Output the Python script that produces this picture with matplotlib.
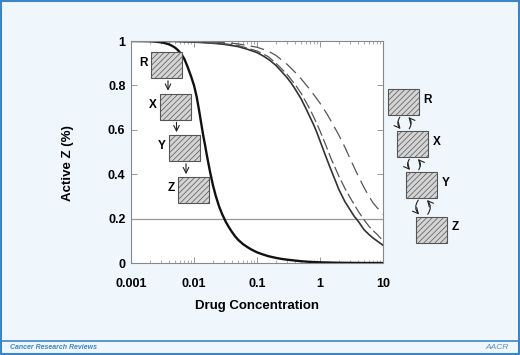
import matplotlib.pyplot as plt
import matplotlib.patches as mpatches
import numpy as np

plt.rcParams['font.family'] = ['Liberation Sans', 'DejaVu Sans']
plt.rcParams['hatch.color'] = '#777777'
plt.rcParams['hatch.linewidth'] = 0.5

# Data
x_steep = [0.001, 0.002, 0.0025, 0.003, 0.0035, 0.004, 0.0045, 0.005, 0.0055, 0.006, 0.0065,
           0.007, 0.0075, 0.008, 0.009, 0.010, 0.011, 0.012, 0.013, 0.014, 0.015, 0.016,
           0.018, 0.020, 0.022, 0.025, 0.028, 0.032, 0.036, 0.040, 0.045, 0.050, 0.060,
           0.070, 0.080, 0.10, 0.12, 0.15, 0.2, 0.25, 0.3, 0.4, 0.5, 0.7, 1, 2, 5, 10]
y_steep = [1.0, 0.999, 0.997, 0.994, 0.99, 0.985, 0.978, 0.97, 0.96, 0.948, 0.935,
           0.92, 0.90, 0.88, 0.84, 0.80, 0.75, 0.69, 0.63, 0.575, 0.53, 0.485,
           0.41, 0.35, 0.305, 0.255, 0.22, 0.185, 0.16, 0.14, 0.12, 0.105, 0.085,
           0.072, 0.062, 0.048, 0.04, 0.031, 0.023, 0.018, 0.015, 0.011, 0.008, 0.005, 0.003, 0.001, 0.0, 0.0]

x_solid = [0.001, 0.005, 0.01, 0.02, 0.03, 0.05, 0.07, 0.1, 0.13, 0.16, 0.2, 0.25, 0.3, 0.35,
           0.4, 0.5, 0.6, 0.7, 0.8, 0.9, 1.0, 1.2, 1.4, 1.7, 2, 2.5, 3, 3.5, 4, 5, 6, 7, 8, 10]
y_solid = [1.0, 0.998, 0.995, 0.99, 0.985, 0.975, 0.963, 0.948, 0.93, 0.913, 0.89, 0.86, 0.835, 0.81,
           0.785, 0.74, 0.695, 0.655, 0.62, 0.585, 0.55, 0.49, 0.44, 0.38, 0.33, 0.275, 0.24, 0.21,
           0.19, 0.15, 0.128, 0.112, 0.1, 0.08]

x_dash = [0.001, 0.01, 0.03, 0.05, 0.1, 0.15, 0.2, 0.3, 0.4, 0.5, 0.7, 0.85, 1, 1.2, 1.5, 2,
          2.5, 3, 4, 5, 6, 7, 8, 10]
y_dash = [1.0, 0.996, 0.988, 0.98, 0.955, 0.93, 0.9, 0.85, 0.805, 0.765, 0.69, 0.64, 0.595, 0.54,
          0.47, 0.39, 0.335, 0.295, 0.235, 0.195, 0.165, 0.145, 0.13, 0.10]

x_long = [0.001, 0.01, 0.03, 0.05, 0.1, 0.15, 0.2, 0.3, 0.4, 0.5, 0.7, 1, 1.3, 1.6, 2, 2.5,
          3, 4, 5, 6, 7, 8, 10]
y_long = [1.0, 0.998, 0.993, 0.987, 0.972, 0.955, 0.935, 0.895, 0.86, 0.83, 0.78, 0.72, 0.67, 0.625,
          0.575, 0.52, 0.47, 0.395, 0.34, 0.3, 0.27, 0.25, 0.22]

threshold = 0.2
xticks = [0.001, 0.01, 0.1, 1, 10]
xticklabels = ['0.001', '0.01', '0.1', '1', '10']
yticks = [0, 0.2, 0.4, 0.6, 0.8, 1]
yticklabels = ['0', '0.2', '0.4', '0.6', '0.8', '1']

bg = '#eff7fd'
blue = '#3d86c6'

fig = plt.figure(figsize=(5.2, 3.55), dpi=100, facecolor=bg)

ax = fig.add_axes([131 / 520, 1 - 263 / 355, 252 / 520, 222 / 355])
ax.set_facecolor('white')
ax.set_xscale('log')
ax.set_xlim(0.001, 10)
ax.set_ylim(0, 1)

ax.axhline(threshold, color='#999999', lw=0.9)
ax.plot(x_steep, y_steep, color='#111111', lw=1.7)
ax.plot(x_solid, y_solid, color='#333333', lw=1.2)
ax.plot(x_dash, y_dash, color='#555555', lw=0.9, dashes=(9, 3))
ax.plot(x_long, y_long, color='#555555', lw=0.9, dashes=(11, 5))

ax.set_xticks(xticks)
ax.set_xticklabels(xticklabels)
ax.set_yticks(yticks)
ax.set_yticklabels(yticklabels)
ax.tick_params(which='both', direction='in', top=True, right=True, color='#888888')
ax.tick_params(which='major', length=4, width=0.6)
ax.tick_params(which='minor', length=2, width=0.5)
ax.tick_params(axis='x', pad=11, labelsize=9)
ax.tick_params(axis='y', pad=4, labelsize=9)
for lab in ax.get_xticklabels() + ax.get_yticklabels():
    lab.set_fontweight('bold')
for s in ax.spines.values():
    s.set_color('#888888')
    s.set_linewidth(0.8)

ax.set_xlabel('Drug Concentration', fontsize=9.5, fontweight='bold', labelpad=7)
ax.set_ylabel('Active Z (%)', fontsize=9.5, fontweight='bold')
ax.yaxis.set_label_coords(-0.225, 0.45)

# overlay in pixel coordinates for the diagrams and frame
ov = fig.add_axes([0, 0, 1, 1], facecolor='none')
ov.set_xlim(0, 520)
ov.set_ylim(355, 0)
ov.axis('off')


def box(x, y, label, label_side):
    ov.add_patch(mpatches.Rectangle((x, y), 31, 26, facecolor='#d4d4d4',
                                    edgecolor='#555555', lw=0.8, hatch='//////'))
    if label_side == 'left':
        ov.text(x - 3, y + 11, label, ha='right', va='center', fontsize=8.5, fontweight='bold')
    else:
        ov.text(x + 36, y + 11, label, ha='left', va='center', fontsize=8.5, fontweight='bold')


names = ['R', 'X', 'Y', 'Z']
left_pos = [(151, 52), (159.5, 93.5), (169, 135), (178, 177)]
for (bx, by), n in zip(left_pos, names):
    box(bx, by, n, 'left')
for i in range(3):
    bx, by = left_pos[i]
    ov.annotate('', xy=(bx + 17, left_pos[i + 1][1]), xytext=(bx + 17, by + 26),
                arrowprops=dict(arrowstyle='->', color='#222222', lw=0.8))

right_pos = [(387.5, 89), (397, 131), (406, 172), (415.5, 216.5)]
for (bx, by), n in zip(right_pos, names):
    box(bx, by, n, 'right')
for i in range(3):
    bx, by = right_pos[i]
    ny = right_pos[i + 1][1]
    ov.annotate('', xy=(bx + 15, ny), xytext=(bx + 14, by + 26),
                arrowprops=dict(arrowstyle='->', color='#222222', lw=0.8,
                                connectionstyle='arc3,rad=0.5'))
    ov.annotate('', xy=(bx + 19, by + 26), xytext=(bx + 20, ny),
                arrowprops=dict(arrowstyle='->', color='#222222', lw=0.8,
                                connectionstyle='arc3,rad=0.5'))

# frame and footer
ov.add_patch(mpatches.Rectangle((1, 1), 518, 353, fill=False, edgecolor=blue, lw=1.5))
ov.plot([1, 519], [340.5, 340.5], color=blue, lw=1.2)
ov.text(10, 347.5, 'Cancer Research Reviews', color=blue, fontsize=5,
        fontstyle='italic', fontweight='bold', va='center', ha='left')
ov.text(509, 347.5, 'AACR', color='#5b8fc0', fontsize=6, fontstyle='italic',
        va='center', ha='right')

fig.savefig('out.png', dpi=100, facecolor=bg)
